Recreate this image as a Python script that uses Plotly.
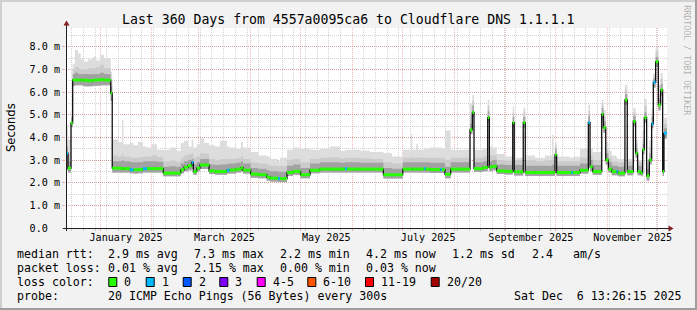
import plotly.graph_objects as go
import pandas as pd

W, H = 697, 310
L, R, T, B = 66, 30, 28, 82
PW, PH = W - L - R, H - T - B

start = pd.Timestamp("2024-12-11 13:26:15")
end = pd.Timestamp("2025-12-06 13:26:15")
span_days = 360

# ---- data (days since start, values in ms) ----
seg_day = [0.0, 1.2, 3.0, 4.0, 5.4, 7.2, 8.8, 10.4, 13.2, 16.0,
           18.0, 20.4, 22.8, 26.8, 27.7, 31.1, 33.5, 34.4, 38.3, 40.3,
           43.1, 46.1, 48.5, 51.5, 54.5, 58.3, 62.3, 65.9, 68.7, 70.7,
           73.1, 75.3, 76.3, 78.3, 80.3, 82.7, 85.7, 89.3, 92.2, 96.4,
           97.9, 101.8, 104.8, 106.0, 110.6, 115.0, 120.2, 122.2, 127.0, 128.2,
           132.4, 136.0, 140.5, 146.2, 152.1, 158.1, 164.1, 167.1, 168.3, 176.1,
           182.1, 190.1, 195.3, 201.7, 206.7, 207.5, 209.7, 210.8, 214.4, 215.3,
           218.0, 224.3, 225.2, 227.0, 230.4, 242.0, 243.4, 244.4, 249.8, 252.6,
           253.6, 255.2, 258.0, 263.0, 267.6, 268.5, 273.9, 275.1, 281.0, 286.9,
           291.1, 292.1, 292.9, 293.9, 301.9, 302.8, 303.7, 307.9, 312.9, 313.9,
           315.5, 320.9, 321.9, 323.3, 324.9, 326.9, 329.8, 330.6, 334.8, 336.2,
           339.8, 341.2, 342.4, 344.4, 345.4, 346.4, 347.8, 349.4, 350.8, 351.8,
           353.2, 354.8, 356.2, 357.4, 358.2]

median_ms = [3.30, 2.64, 4.63, 6.53, 6.53, 6.53, 6.53, 6.52, 6.50, 6.53,
             6.53, 6.55, 6.53, 5.95, 2.64, 2.64, 2.62, 2.62, 2.57, 2.57,
             2.58, 2.62, 2.62, 2.62, 2.62, 2.42, 2.42, 2.42, 2.57, 2.68,
             2.75, 2.89, 2.49, 2.64, 2.78, 2.78, 2.52, 2.49, 2.49, 2.55,
             2.56, 2.60, 2.66, 2.55, 2.38, 2.35, 2.25, 2.20, 2.18, 2.18,
             2.45, 2.50, 2.35, 2.55, 2.60, 2.60, 2.60, 2.62, 2.60, 2.60,
             2.60, 2.35, 2.35, 2.60, 2.60, 2.60, 2.60, 2.60, 2.62, 2.60,
             2.58, 2.58, 2.58, 2.37, 2.60, 4.33, 5.10, 2.62, 2.67, 4.87,
             2.68, 2.72, 2.52, 2.50, 4.65, 2.48, 4.65, 2.45, 2.45, 2.45,
             2.45, 2.45, 3.23, 2.45, 2.45, 2.45, 2.45, 2.55, 4.65, 2.70,
             2.49, 5.02, 4.43, 3.00, 2.60, 2.49, 2.49, 2.42, 5.65, 2.49,
             4.70, 3.30, 2.49, 2.42, 3.45, 4.87, 2.30, 3.00, 4.60, 6.43,
             7.34, 5.43, 6.09, 2.49, 4.18]

loss_pings = [1, 0, 0, 0, 0, 0, 0, 0, 0, 0,
              0, 0, 0, 0, 0, 0, 0, 0, 1, 0,
              0, 1, 0, 0, 0, 0, 0, 0, 0, 0,
              0, 1, 0, 0, 0, 0, 0, 0, 0, 1,
              0, 0, 0, 0, 0, 0, 0, 0, 1, 0,
              0, 0, 0, 0, 0, 0, 0, 1, 0, 0,
              0, 0, 0, 0, 0, 0, 0, 0, 1, 0,
              0, 1, 0, 0, 0, 0, 0, 0, 0, 0,
              0, 0, 0, 0, 0, 0, 0, 0, 0, 0,
              0, 0, 0, 0, 0, 1, 0, 0, 1, 0,
              0, 0, 0, 0, 0, 0, 1, 0, 0, 0,
              0, 0, 0, 0, 0, 0, 0, 0, 1, 1,
              0, 0, 0, 0, 1]

smoke_lo = [2.55, 2.45, 4.45, 6.28, 6.30, 6.30, 6.30, 6.25, 6.25, 6.28,
            6.28, 6.30, 6.30, 5.60, 2.45, 2.45, 2.45, 2.45, 2.42, 2.40,
            2.42, 2.45, 2.45, 2.45, 2.45, 2.28, 2.28, 2.28, 2.42, 2.50,
            2.55, 2.60, 2.35, 2.50, 2.60, 2.60, 2.38, 2.35, 2.35, 2.40,
            2.40, 2.45, 2.48, 2.40, 2.22, 2.20, 2.08, 2.05, 2.03, 2.03,
            2.30, 2.35, 2.20, 2.42, 2.45, 2.45, 2.45, 2.45, 2.45, 2.45,
            2.45, 2.18, 2.18, 2.45, 2.45, 2.45, 2.45, 2.45, 2.45, 2.45,
            2.43, 2.43, 2.43, 2.20, 2.45, 4.15, 4.90, 2.47, 2.50, 4.70,
            2.50, 2.55, 2.38, 2.36, 4.45, 2.32, 4.45, 2.30, 2.30, 2.30,
            2.30, 2.30, 3.05, 2.30, 2.30, 2.30, 2.30, 2.40, 4.50, 2.50,
            2.35, 4.80, 4.20, 2.80, 2.45, 2.33, 2.33, 2.28, 5.45, 2.33,
            4.50, 3.10, 2.33, 2.28, 3.25, 4.65, 2.10, 2.80, 4.40, 6.20,
            7.10, 5.20, 5.85, 2.30, 3.95]

smoke_q3 = [3.60, 2.95, 4.85, 6.80, 6.85, 6.80, 6.80, 6.80, 6.78, 6.80,
            6.80, 6.85, 6.80, 6.25, 2.95, 2.95, 3.00, 2.95, 2.90, 2.90,
            2.90, 2.95, 2.95, 2.95, 2.92, 2.70, 2.72, 2.70, 2.85, 2.95,
            3.00, 3.05, 2.80, 2.90, 3.05, 3.05, 2.80, 2.78, 2.80, 2.82,
            2.85, 2.88, 2.95, 2.85, 2.65, 2.62, 2.55, 2.50, 2.48, 2.48,
            2.75, 2.80, 2.65, 2.85, 2.90, 2.90, 2.88, 2.90, 2.90, 2.88,
            2.88, 2.65, 2.62, 2.90, 2.90, 2.90, 2.90, 2.90, 2.90, 2.90,
            2.88, 2.88, 2.88, 2.70, 2.90, 4.60, 5.40, 2.90, 2.95, 5.15,
            2.95, 3.00, 2.80, 2.78, 4.90, 2.78, 4.90, 2.75, 2.75, 2.75,
            2.80, 2.75, 3.50, 2.75, 2.75, 2.75, 2.75, 2.85, 4.95, 3.00,
            2.78, 5.30, 4.70, 3.30, 2.90, 2.75, 2.75, 2.70, 5.90, 2.75,
            4.95, 3.50, 2.75, 2.70, 3.70, 5.10, 2.60, 3.30, 4.90, 6.60,
            7.55, 5.70, 6.35, 2.80, 4.40]

smoke_q4 = [3.90, 3.30, 5.00, 7.00, 7.10, 7.05, 7.00, 7.00, 7.05, 7.05,
            7.10, 7.20, 7.05, 6.45, 3.20, 3.15, 3.30, 3.15, 3.10, 3.10,
            3.12, 3.15, 3.15, 3.20, 3.12, 2.95, 2.98, 2.92, 3.10, 3.20,
            3.25, 3.30, 3.10, 3.15, 3.30, 3.28, 3.05, 3.00, 3.05, 3.05,
            3.05, 3.08, 3.15, 3.05, 2.90, 2.85, 2.80, 2.75, 2.72, 2.75,
            3.00, 3.05, 2.90, 3.05, 3.10, 3.12, 3.08, 3.10, 3.10, 3.08,
            3.05, 2.90, 2.85, 3.10, 3.15, 3.10, 3.12, 3.10, 3.10, 3.10,
            3.10, 3.10, 3.10, 3.00, 3.10, 5.00, 5.60, 3.10, 3.15, 5.40,
            3.20, 3.20, 3.00, 2.98, 5.10, 3.00, 5.10, 3.00, 2.95, 3.00,
            3.10, 3.00, 3.65, 2.95, 2.95, 2.95, 2.95, 3.10, 5.15, 3.20,
            3.00, 5.50, 4.90, 3.50, 3.10, 2.95, 2.95, 2.90, 6.10, 2.95,
            5.10, 3.70, 2.90, 2.85, 3.90, 5.40, 2.80, 3.60, 5.10, 6.75,
            7.80, 5.90, 6.60, 3.00, 4.60]

smoke_hi = [4.55, 3.90, 5.20, 7.25, 7.85, 7.70, 7.45, 7.35, 7.45, 7.55,
            7.40, 7.65, 7.50, 6.90, 3.90, 3.80, 4.77, 3.70, 3.75, 3.65,
            3.80, 3.60, 3.55, 3.70, 3.45, 3.45, 3.55, 3.40, 3.75, 3.85,
            3.60, 3.90, 3.55, 3.70, 3.95, 3.75, 3.65, 3.60, 3.85, 3.60,
            3.55, 3.50, 3.80, 3.55, 3.35, 3.20, 3.15, 3.05, 2.95, 3.10,
            3.45, 3.55, 3.50, 3.45, 3.50, 3.60, 3.40, 3.45, 3.45, 3.42,
            3.35, 3.30, 3.15, 3.45, 4.14, 3.45, 3.70, 3.45, 3.50, 3.50,
            3.55, 3.55, 3.50, 4.30, 3.45, 5.50, 5.87, 3.45, 3.50, 5.65,
            3.60, 3.55, 3.27, 3.15, 5.36, 3.10, 5.31, 3.20, 3.10, 3.20,
            4.10, 3.20, 3.80, 3.15, 3.10, 3.10, 3.15, 3.50, 5.43, 3.50,
            3.35, 5.65, 5.20, 3.75, 3.40, 3.20, 3.10, 3.05, 6.31, 3.05,
            5.29, 3.90, 3.00, 3.00, 4.30, 5.70, 3.00, 3.90, 5.30, 6.83,
            8.00, 6.30, 6.83, 3.10, 4.86]

loss_levels = [0, 1, 2, 3, 4, 6, 11, 20]
loss_labels = ["0", "1", "2", "3", "4-5", "6-10", "11-19", "20/20"]
loss_colors = ["#26ff00", "#00b8ff", "#0059ff", "#7e00ff", "#ff00ff", "#ff5500", "#ff0000", "#a10000"]

x_label_dates = ["2025-01-16 12:00", "2025-03-16 12:00", "2025-05-16 12:00",
                 "2025-07-16 12:00", "2025-09-16 00:00", "2025-11-16 00:00"]
x_label_text = ["January 2025", "March 2025", "May 2025",
                "July 2025", "September 2025", "November 2025"]
y_tick_vals = [0, 1, 2, 3, 4, 5, 6, 7, 8]
y_tick_text = ["0.0\u00a0\u00a0"] + ["%.1f m" % v for v in y_tick_vals[1:]]
y_max = 8.826

title = "Last 360 Days from 4557a0095ca6 to Cloudflare DNS 1.1.1.1"
stats_rtt = [("median rtt:", 16), ("2.9 ms avg", 107.3), ("7.3 ms max", 193.3),
             ("2.2 ms min", 279.3), ("4.2 ms now", 365), ("1.2 ms sd", 451),
             ("2.4", 530.7), ("am/s", 572.3)]
stats_loss = [("packet loss:", 16), ("0.01 % avg", 107.3), ("2.15 % max", 193.3),
              ("0.00 % min", 279.3), ("0.03 % now", 365)]
probe_row = [("probe:", 16), ("20 ICMP Echo Pings (56 Bytes) every 300s", 107.3),
             ("Sat Dec  6 13:26:15 2025", 513.3)]
swatch_x = [108.3, 145.7, 182.7, 219.3, 256.7, 307.3, 365, 430.7]

# ---------------------------------------------------------------------
n = len(seg_day)
assert all(len(a) == n for a in [median_ms, loss_pings, smoke_lo, smoke_q3, smoke_q4, smoke_hi])

t = [start + pd.Timedelta(days=d) for d in seg_day] + [start + pd.Timedelta(days=span_days)]
def step(vals):
    return list(vals) + [vals[-1]]

mono = "DejaVu Sans Mono"
fig = go.Figure()

def band(upper, color):
    fig.add_trace(go.Scatter(x=t, y=step(smoke_lo), mode="lines", line=dict(width=0, shape="hv"),
                             hoverinfo="skip", showlegend=False))
    fig.add_trace(go.Scatter(x=t, y=step(upper), mode="lines", line=dict(width=0, shape="hv"),
                             fill="tonexty", fillcolor=color, hoverinfo="skip", showlegend=False))

band(smoke_hi, "#dddddd")
band(smoke_q4, "#cbcbcb")
band(smoke_q3, "#a2a2a2")

fig.add_trace(go.Scatter(x=t, y=step(median_ms), mode="lines",
                         line=dict(color="#111111", width=1.3, shape="hv"),
                         hoverinfo="skip", showlegend=False))

def bucket(l):
    b = 0
    for i, lv in enumerate(loss_levels):
        if l >= lv:
            b = i
    return b

for bi, col in enumerate(loss_colors):
    xs, ys = [], []
    for i in range(n):
        if bucket(loss_pings[i]) == bi:
            xs += [t[i], t[i + 1], None]
            ys += [median_ms[i], median_ms[i], None]
    if xs:
        fig.add_trace(go.Scatter(x=xs, y=ys, mode="lines", line=dict(color=col, width=3),
                                 hoverinfo="skip", showlegend=False))

# invisible trace carrying the label axis
fig.add_trace(go.Scatter(x=x_label_dates, y=[0] * len(x_label_dates), xaxis="x2", mode="markers",
                         marker=dict(opacity=0), hoverinfo="skip", showlegend=False))

def px(x):
    return (x - L) / PW
def py(y):
    return (T + PH - y) / PH

ann = []
def text(x, y, s, size=11.6, color="black", anchor="left", family=mono, angle=0):
    ann.append(dict(x=px(x), y=py(y), xref="paper", yref="paper", text=s.replace(" ", "\u00a0"),
                    showarrow=False, xanchor=anchor, yanchor="middle", borderpad=0, textangle=angle,
                    font=dict(family=family, size=size, color=color)))

text(348, 19, title, size=13.2, anchor="center")
text(10.5, 127.5, "Seconds", size=11.6, anchor="center", family="DejaVu Sans", angle=-90)
text(686.7, 60, "RRDTOOL / TOBI OETIKER", size=8.3, anchor="center", color="rgba(0,0,0,0.3)", angle=90)
for s, x in stats_rtt:
    text(x, 254.3, s)
for s, x in stats_loss:
    text(x, 268.3, s)
text(16, 282.3, "loss color:")
for sx, lab in zip(swatch_x, loss_labels):
    text(sx + 15, 282.3, lab)
for s, x in probe_row:
    text(x, 296.3, s)

shapes = []
def rect(x0, y0, x1, y1, fill, line=None):
    shapes.append(dict(type="rect", xref="paper", yref="paper", x0=px(x0), x1=px(x1), y0=py(y0), y1=py(y1),
                       fillcolor=fill, line=dict(width=1 if line else 0, color=line or fill)))

# frame
rect(0, 0, W, 2, "#cfcfcf")
rect(0, 0, 2, H, "#cfcfcf")
rect(W - 2, 0, W, H, "#9e9e9e")
rect(0, H - 2, W, H, "#9e9e9e")
# loss swatches
for sx, col in zip(swatch_x, loss_colors):
    rect(sx + 0.5, 277.5, sx + 8.5, 286.5, col, "#000000")
# axes
axis_col = "#1f1f1f"
arrow_col = "#801f1f"
shapes.append(dict(type="line", xref="paper", yref="paper", x0=px(66.5), x1=px(66.5), y0=py(231), y1=py(24),
                   line=dict(color=axis_col, width=1)))
shapes.append(dict(type="line", xref="paper", yref="paper", x0=px(63), x1=px(670), y0=py(228.5), y1=py(228.5),
                   line=dict(color=axis_col, width=1)))
shapes.append(dict(type="path", xref="paper", yref="paper",
                   path="M %f %f L %f %f L %f %f Z" % (px(63.5), py(25.5), px(69.5), py(25.5), px(66.5), py(20.5)),
                   fillcolor=arrow_col, line=dict(width=0)))
shapes.append(dict(type="path", xref="paper", yref="paper",
                   path="M %f %f L %f %f L %f %f Z" % (px(668.5), py(225.5), px(668.5), py(231.5), px(673.5), py(228.5)),
                   fillcolor=arrow_col, line=dict(width=0)))

grid_col = "rgba(143,143,143,0.4)"
mgrid_col = "rgba(222,79,79,0.4)"

fig.update_layout(
    width=W, height=H, margin=dict(l=L, r=R, t=T, b=B, pad=0),
    paper_bgcolor="#f2f2f2", plot_bgcolor="#ffffff",
    showlegend=False, annotations=ann, shapes=shapes,
    xaxis=dict(type="date", range=[start, end], dtick="M1", tick0="2025-01-01",
               showticklabels=False, showgrid=True, gridcolor=mgrid_col, griddash="1px,1px", gridwidth=1,
               ticks="outside", ticklen=2, tickcolor=mgrid_col, zeroline=False, showline=False,
               minor=dict(dtick=7 * 86400000, tick0="2024-12-15", showgrid=True, gridcolor=grid_col,
                          griddash="1px,1px", ticks="outside", ticklen=2, tickcolor=grid_col)),
    xaxis2=dict(type="date", range=[start, end], overlaying="x", anchor="y", side="bottom",
                tickmode="array", tickvals=x_label_dates, ticktext=x_label_text, showgrid=False,
                ticks="", zeroline=False, showline=False, ticklabelstandoff=2,
                tickfont=dict(family=mono, size=10.1, color="black")),
    yaxis=dict(range=[0, y_max], tickmode="array", tickvals=y_tick_vals, ticktext=y_tick_text,
               showgrid=True, gridcolor=mgrid_col, griddash="1px,1px", zeroline=False, showline=False,
               ticks="outside", ticklen=3, tickcolor=mgrid_col,
               tickfont=dict(family=mono, size=10.1, color="black"),
               minor=dict(dtick=0.5, showgrid=True, gridcolor=grid_col, griddash="1px,1px")),
)

fig.write_html("out.html")
